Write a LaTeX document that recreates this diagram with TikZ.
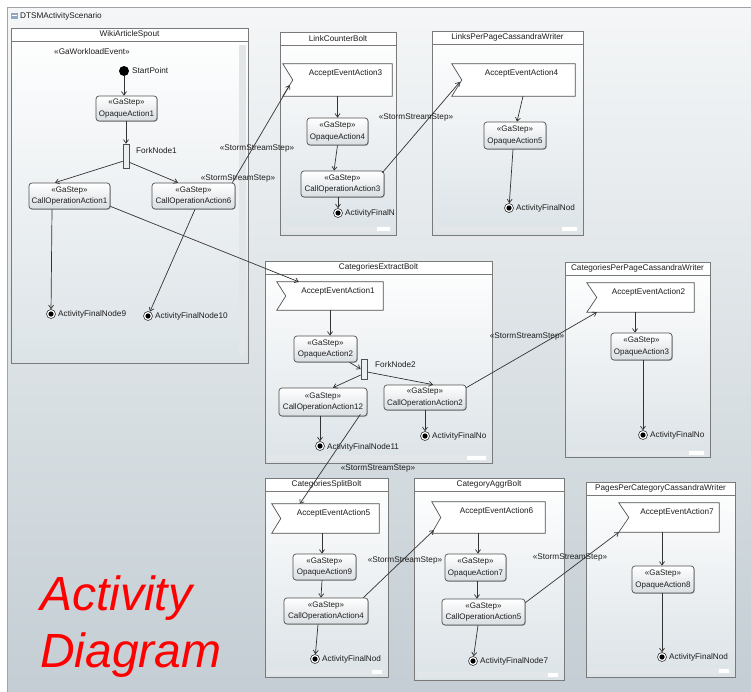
\documentclass[tikz,border=0pt]{standalone}
\usepackage{fontspec}
\setmainfont{Liberation Sans}
\usetikzlibrary{arrows.meta,calc,fit,shadows}

\definecolor{bgtop}{HTML}{F4F6F7}
\definecolor{bgbot}{HTML}{C3CDD3}
\definecolor{partbot}{HTML}{DCE3E7}
\definecolor{stepbot}{HTML}{D9DEE2}
\definecolor{boxline}{HTML}{505050}
\definecolor{partline}{HTML}{7A7A7A}
\definecolor{linec}{HTML}{333333}
\definecolor{textc}{HTML}{1E1E1E}
\definecolor{scrollc}{HTML}{E2E6E9}
\definecolor{framec}{HTML}{A0A4A8}
\definecolor{forkfill}{HTML}{ECEFF1}
\definecolor{iconc}{HTML}{8FA7BF}

\tikzset{
  txt/.style={font=\fontsize{8.2}{10}\selectfont, text=textc, inner sep=1pt},
  gastep/.style={draw=boxline, line width=0.7pt, rounded corners=3pt,
    top color=white, bottom color=stepbot, align=center, inner sep=1pt,
    font=\fontsize{8}{11.5}\selectfont, text=textc,
    drop shadow={shadow xshift=0.8pt, shadow yshift=-0.8pt, opacity=0.25, fill=black}},
  flagshape/.style={draw=boxline, line width=0.7pt, fill=white},
  partition/.style={draw=partline, line width=0.7pt, top color=white, bottom color=partbot},
  flow/.style={draw=linec, line width=0.7pt, -{Straight Barb[length=3.5pt,width=5pt]}},
  final/.style={circle, draw=linec, line width=0.6pt, fill=white, minimum size=9pt, inner sep=0pt,
    path picture={\fill[black] (path picture bounding box.center) circle (2.6pt);}},
  startdot/.style={circle, fill=black, minimum size=10pt, inner sep=0pt},
  forkbar/.style={draw=boxline, line width=0.6pt, fill=forkfill, inner sep=0pt},
  bigred/.style={font=\fontsize{48}{48}\selectfont\itshape, text=red, inner sep=0pt}
}

% swimlane-like partition with a title bar
\newcommand\partbox[6]{%
  \draw[partition] (#2,#3) rectangle (#4,#5);
  \filldraw[fill=white, draw=partline, line width=0.7pt] (#2,#3) rectangle (#4,#3+13);
  \node[fit={(#2,#3) (#4,#5)}, inner sep=0pt] (#1) {};
  \node[txt] (#1-title) at ($(#1.north)+(0,7)$) {#6};
}
% accept-event action: rectangle with a notch on the left side
\newcommand\flagbox[7]{%
  \node[fit={(#2,#3) (#4,#5)}, inner sep=0pt] (#1) {};
  \draw[flagshape] (#1.north west) -- (#1.north east) -- (#1.south east) -- (#1.south west) -- ($(#1.west)+(#6,0)$) -- cycle;
  \node[txt] (#1-text) at ($(#1.north)+(8,10)$) {#7};
}
% horizontal scrollbar track with its thumb
\newcommand\hscroll[5]{%
  \fill[scrollc] (#1,#2) rectangle (#3,#4);
  \fill[white] (#5,#2+1) rectangle (#3-3,#4-1);
}

\begin{document}
\begin{tikzpicture}[x=1pt,y=-1pt]
\useasboundingbox (0,0) rectangle (751,691);
\begin{scope}
\clip (0,0) rectangle (751,691);
\fill[white] (0,0) rectangle (751,691);
\shade[top color=bgtop, bottom color=bgbot] (7,7) rectangle (760,700);
\draw[framec, line width=0.8pt] (7,700) -- (7,7) -- (760,7);
\fill[iconc] (11,13) rectangle (18,19);
\fill[white] (12,15) rectangle (17,16);
\node[txt, anchor=west] (scen) at (19,16) {DTSMActivityScenario};

% ---------------- WikiArticleSpout
\partbox{wiki}{11}{28}{248}{363}{WikiArticleSpout}
\fill[scrollc] (239,45) rectangle (246,355);
\node[txt] (wl) at (92,52) {«GaWorkloadEvent»};
\node[startdot] (start) at (124,71) {};
\node[txt, anchor=west] (startl) at (131,71) {StartPoint};
\node[gastep, minimum width=61pt, minimum height=25pt] (op1) at (126.5,108.5) {«GaStep»\\OpaqueAction1};
\node[forkbar, fit={(123,144) (129,168)}] (fork1) {};
\node[txt, anchor=west] (fork1l) at (135,151) {ForkNode1};
\node[gastep, minimum width=81pt, minimum height=26pt] (co1) at (69.5,196) {«GaStep»\\CallOperationAction1};
\node[gastep, minimum width=83pt, minimum height=26pt] (co6) at (193.5,196) {«GaStep»\\CallOperationAction6};
\node[final] (fin9) at (51,314) {};
\node[txt, anchor=west] (fin9l) at (57,314) {ActivityFinalNode9};
\node[final] (fin10) at (148,316) {};
\node[txt, anchor=west] (fin10l) at (154,316) {ActivityFinalNode10};
\draw[flow] (start) -- (start |- op1.north);
\draw[flow] (op1.south -| fork1) -- (fork1.north);
\draw[flow] ($(fork1.south west)+(0,-7)$) -- ($(co1.north)+(-14.5,0)$);
\draw[flow] ($(fork1.south east)+(0,-6)$) -- ($(co6.north)+(-15.5,0)$);
\draw[flow] ($(co1.south)+(-17.5,0)$) -- (fin9);
\draw[flow] ($(co6.south)+(1.5,0)$) -- (fin10);

% ---------------- LinkCounterBolt
\partbox{lcb}{280}{32}{396}{235}{LinkCounterBolt}
\hscroll{283}{226}{393}{232}{377}
\flagbox{ae3}{283}{64}{392}{96}{10}{AcceptEventAction3}
\node[gastep, minimum width=61pt, minimum height=27pt] (op4) at (337.5,131.5) {«GaStep»\\OpaqueAction4};
\node[gastep, minimum width=83pt, minimum height=26pt] (co3) at (342.5,184) {«GaStep»\\CallOperationAction3};
\node[final] (fin3) at (338,213) {};
\node[txt, anchor=west] (fin3l) at (344,213) {ActivityFinalN};
\draw[flow] (ae3.south) -- (op4.north);
\draw[flow] (op4.south) -- ($(co3.north)+(-8.5,0)$);
\draw[flow] ($(co3.south)+(-4.5,0)$) -- (fin3);

% ---------------- LinksPerPageCassandraWriter
\partbox{lpp}{432}{31}{583}{235}{LinksPerPageCassandraWriter}
\hscroll{435}{226}{580}{232}{562}
\flagbox{ae4}{452}{64}{575}{96}{10}{AcceptEventAction4}
\node[gastep, minimum width=62pt, minimum height=27pt] (op5) at (515,135.5) {«GaStep»\\OpaqueAction5};
\node[final] (fin4) at (509,208) {};
\node[txt, anchor=west] (fin4l) at (515,208) {ActivityFinalNod};
\draw[flow] ($(ae4.south)+(9.5,0)$) -- ($(op5.north)+(2,0)$);
\draw[flow] ($(op5.south)+(-2,0)$) -- (fin4);

% ---------------- CategoriesExtractBolt
\partbox{ceb}{265}{261}{492}{463}{CategoriesExtractBolt}
\hscroll{268}{455}{489}{461}{467}
\flagbox{ae1}{277}{282}{383}{310}{9}{AcceptEventAction1}
\node[gastep, minimum width=63pt, minimum height=26pt] (op2) at (325.5,349) {«GaStep»\\OpaqueAction2};
\node[forkbar, fit={(361,359) (367,379)}] (fork2) {};
\node[txt, anchor=west] (fork2l) at (374,365) {ForkNode2};
\node[gastep, minimum width=88pt, minimum height=28pt] (co12) at (323,402) {«GaStep»\\CallOperationAction12};
\node[gastep, minimum width=82pt, minimum height=25pt] (co2) at (425,397.5) {«GaStep»\\CallOperationAction2};
\node[final] (fin11) at (320,446) {};
\node[txt, anchor=west] (fin11l) at (326,447) {ActivityFinalNode11};
\node[final] (fin2) at (425,436) {};
\node[txt, anchor=west] (fin2l) at (431,436) {ActivityFinalNo};
\draw[flow] (ae1.south) -- ($(op2.north)+(4.5,0)$);
\draw[flow] ($(op2.south)+(24,0)$) -- (fork2.west);
\draw[flow] ($(fork2.east)+(0,3)$) -- ($(co2.north)+(8,0)$);
\draw[flow] ($(fork2.west)+(0,6)$) -- ($(co12.north)+(10,0)$);
\draw[flow] ($(co12.south)+(-3,0)$) -- (fin11);
\draw[flow] (co2.south) -- (fin2);

% ---------------- CategoriesPerPageCassandraWriter
\partbox{cpp}{565}{262}{710}{457}{CategoriesPerPageCassandraWriter}
\hscroll{568}{450}{707}{456}{689}
\flagbox{ae2}{587}{283}{694}{312}{10}{AcceptEventAction2}
\node[gastep, minimum width=61pt, minimum height=27pt] (op3) at (641.5,346.5) {«GaStep»\\OpaqueAction3};
\node[final] (fin6) at (643,435) {};
\node[txt, anchor=west] (fin6l) at (649,435) {ActivityFinalNo};
\draw[flow] ($(ae2.south)+(-5.5,0)$) -- ($(op3.north)+(-6.5,0)$);
\draw[flow] ($(op3.south)+(1.5,0)$) -- (fin6);

% ---------------- CategoriesSplitBolt
\partbox{csb}{265}{478}{388}{677}{CategoriesSplitBolt}
\hscroll{268}{669}{385}{675}{372}
\flagbox{ae5}{272}{504}{379}{533}{9}{AcceptEventAction5}
\node[gastep, minimum width=63pt, minimum height=26pt] (op9) at (324.5,567) {«GaStep»\\OpaqueAction9};
\node[gastep, minimum width=84pt, minimum height=26pt] (co4) at (326,611) {«GaStep»\\CallOperationAction4};
\node[final] (fin5) at (315,659) {};
\node[txt, anchor=west] (fin5l) at (321,659) {ActivityFinalNod};
\draw[flow] ($(ae5.south)+(-3.5,0)$) -- ($(op9.north)+(-2.5,0)$);
\draw[flow] ($(op9.south)+(-2.5,0)$) -- ($(co4.north)+(-5,0)$);
\draw[flow] ($(co4.south)+(-8,0)$) -- (fin5);

% ---------------- CategoryAggrBolt
\partbox{cab}{414}{478}{564}{680}{CategoryAggrBolt}
\hscroll{417}{672}{561}{678}{548}
\flagbox{ae6}{432}{502}{545}{533}{9}{AcceptEventAction6}
\node[gastep, minimum width=61pt, minimum height=27pt] (op7) at (475.5,567.5) {«GaStep»\\OpaqueAction7};
\node[gastep, minimum width=83pt, minimum height=26pt] (co5) at (483.5,612) {«GaStep»\\CallOperationAction5};
\node[final] (fin7) at (473,661) {};
\node[txt, anchor=west] (fin7l) at (479,661) {ActivityFinalNode7};
\draw[flow] ($(ae6.south)+(-10.5,0)$) -- ($(op7.north)+(2.5,0)$);
\draw[flow] ($(op7.south)+(1.5,0)$) -- ($(co5.north)+(-6.5,0)$);
\draw[flow] ($(co5.south)+(-5.5,0)$) -- (fin7);

% ---------------- PagesPerCategoryCassandraWriter
\partbox{ppc}{586}{482}{735}{677}{PagesPerCategoryCassandraWriter}
\hscroll{589}{668}{732}{674}{719}
\flagbox{ae7}{619}{503}{719}{532}{10}{AcceptEventAction7}
\node[gastep, minimum width=62pt, minimum height=27pt] (op8) at (663,579.5) {«GaStep»\\OpaqueAction8};
\node[final] (fin8) at (662,657) {};
\node[txt, anchor=west] (fin8l) at (668,657) {ActivityFinalNod};
\draw[flow] ($(ae7.south)+(-7,0)$) -- ($(op8.north)+(-1,0)$);
\draw[flow] ($(op8.south)+(-1,0)$) -- (fin8);

% ---------------- stream steps between the bolts
\draw[flow] ($(co1.south east)+(0,-3)$) -- ($(ae1.north west)+(22,0)$);
\draw[flow] ($(co6.north east)+(-3,0)$) -- ($(ae3.west)+(7,5)$);
\draw[flow] ($(co3.north east)+(-2,2)$) -- ($(ae4.west)+(8,2)$);
\draw[flow] ($(co2.north east)+(0,3)$) -- ($(ae2.south west)+(10,0)$);
\draw[flow] ($(co12.south east)+(-7,-2)$) -- ($(ae5.north west)+(28,0)$);
\draw[flow] ($(co4.north east)+(-5,0)$) -- ($(ae6.south west)+(2,-3)$);
\draw[flow] ($(co5.north east)+(0,4)$) -- (ae7.south west);

\node[txt] (s1) at (257,148) {«StormStreamStep»};
\node[txt] (s2) at (238,178) {«StormStreamStep»};
\node[txt] (s3) at (416,117) {«StormStreamStep»};
\node[txt] (s4) at (527,336) {«StormStreamStep»};
\node[txt] (s5) at (378,468) {«StormStreamStep»};
\node[txt] (s6) at (405,560) {«StormStreamStep»};
\node[txt] (s7) at (570,557) {«StormStreamStep»};

% ---------------- caption
\node[bigred, anchor=base west] (cap1) at (40,610) {Activity};
\node[bigred, anchor=base west] (cap2) at (40,667) {Diagram};
\end{scope}
\end{tikzpicture}
\end{document}
